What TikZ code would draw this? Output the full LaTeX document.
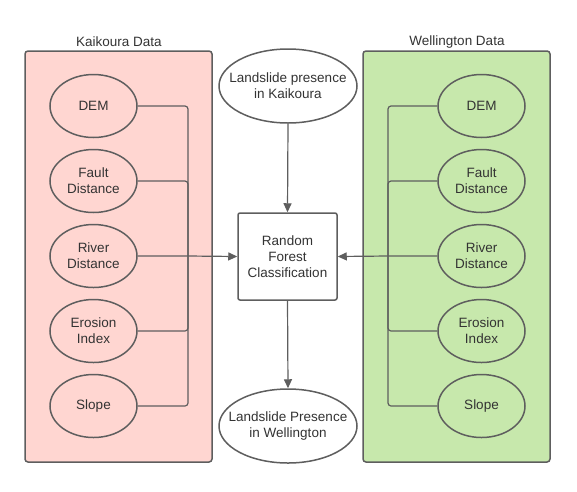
\documentclass[tikz,border=0pt]{standalone}
\usepackage{fontspec}
\setmainfont{Liberation Sans}
\usetikzlibrary{arrows.meta,shapes.geometric}
\definecolor{lc}{HTML}{5E5E5E}
\definecolor{tc}{HTML}{333333}
\definecolor{pinkfill}{HTML}{FFD6D1}
\definecolor{greenfill}{HTML}{C7E8AC}
\begin{document}
\begin{tikzpicture}[x=1pt,y=-1pt,
  font=\fontsize{13.5}{16}\selectfont, text=tc,
  container/.style={draw=lc,line width=1.5pt,rounded corners=3pt},
  dataell/.style={ellipse,draw=lc,line width=1.5pt,minimum width=87pt,minimum height=63pt,inner sep=0pt,align=center},
  bigell/.style={ellipse,draw=lc,line width=1.5pt,fill=white,minimum width=138pt,minimum height=74pt,inner xsep=-14pt,inner ysep=-4pt,align=center},
  procbox/.style={draw=lc,line width=1.5pt,fill=white,rounded corners=2pt,minimum width=99pt,minimum height=87pt,inner sep=0pt,align=center},
  conn/.style={draw=lc,line width=1.2pt,rounded corners=3pt},
  arr/.style={conn,-{Triangle[width=8pt,length=9pt]}},
  ttl/.style={inner sep=0pt}]
\useasboundingbox (0,0) rectangle (577,491);
% containers
\draw[container,fill=pinkfill] (25,51) rectangle (212,462);
\draw[container,fill=greenfill] (363,51) rectangle (550,462);
\node[ttl] (tk) at (119,42) {Kaikoura Data};
\node[ttl] (tw) at (457,42) {Wellington Data};
% left ellipses
\node[dataell] (l1) at (93.5,106) {DEM};
\node[dataell] (l2) at (93.5,181) {Fault\\Distance};
\node[dataell] (l3) at (93.5,256) {River\\Distance};
\node[dataell] (l4) at (93.5,331) {Erosion\\Index};
\node[dataell] (l5) at (93.5,406) {Slope};
% right ellipses
\node[dataell] (r1) at (481.5,106) {DEM};
\node[dataell] (r2) at (481.5,181) {Fault\\Distance};
\node[dataell] (r3) at (481.5,256) {River\\Distance};
\node[dataell] (r4) at (481.5,331) {Erosion\\Index};
\node[dataell] (r5) at (481.5,406) {Slope};
% centre
\node[bigell] (top) at (288,86) {Landslide presence\\in Kaikoura};
\node[procbox] (rf) at (287.5,256.5) {Random\\Forest\\Classification};
\node[bigell] (bot) at (288,426) {Landslide Presence\\in Wellington};
% buses
\coordinate (lb) at (188,256.5);
\coordinate (rb) at (388,256.5);
\foreach \n in {l1,l2,l4,l5}{
  \draw[conn] (\n.east) -| (lb);
}
\draw[arr] (l3.east) -- (l3.east -| lb) -- (rf.west);
\foreach \n in {r1,r2,r4,r5}{
  \draw[conn] (\n.west) -| (rb);
}
\draw[arr] (r3.west) -- (r3.west -| rb) -- (rf.east);
\draw[arr] (top.south) -- (rf.north);
\draw[arr] (rf.south) -- (bot.north);
\end{tikzpicture}
\end{document}
